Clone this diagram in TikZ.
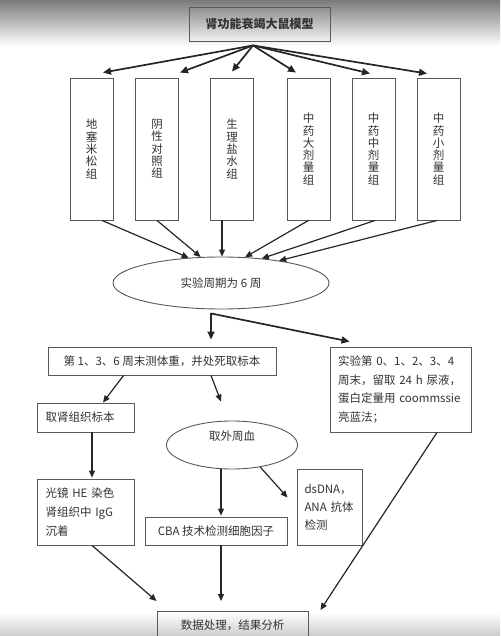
\documentclass[tikz,border=0pt]{standalone}
\usepackage{fontspec}
\setmainfont{Noto Sans CJK SC}
\usetikzlibrary{shapes.geometric,arrows.meta,calc}
\newcommand\tightls{\lineskiplimit=-20pt\relax\lineskip=0pt\relax}
\begin{document}
\begin{tikzpicture}[x=1pt,y=1pt,
  font=\fontsize{11.5}{13.5}\selectfont,
  txt/.style={text=black!80},
  boxa/.style={draw=black!65,line width=0.9pt,inner sep=0pt,txt},
  grp/.style={boxa,minimum width=43pt,minimum height=142pt,align=center,text width=12pt,font=\fontsize{11.5}{12.3}\selectfont\tightls},
  ell/.style={ellipse,draw=black!65,line width=0.9pt,inner sep=0pt,txt},
  arr/.style={-{Triangle[length=7pt,width=6pt]},line width=1.2pt,draw=black!85},
  arrb/.style={-{Triangle[length=8pt,width=7pt]},line width=1.7pt,draw=black!85}]
\clip (0,0) rectangle (500,-636);
\useasboundingbox (0,0) rectangle (500,-636);
\fill[white] (0,0) rectangle (500,-636);
\shade[top color=black!52,bottom color=white] (0,0) rectangle (500,-46);
\shade[top color=white,bottom color=black!20] (0,-612) rectangle (500,-636);

% title
\node[boxa,minimum width=141pt,minimum height=34pt,font=\fontsize{12}{14}\selectfont\bfseries] (title) at (259.5,-24) {肾功能衰竭大鼠模型};

% groups
\node[grp] (g1) at (91.5,-149) {地\\塞\\米\\松\\组};
\node[grp] (g2) at (157,-149) {阴\\性\\对\\照\\组};
\node[grp] (g3) at (232,-149) {生\\理\\盐\\水\\组};
\node[grp] (g4) at (308.5,-149) {中\\药\\大\\剂\\量\\组};
\node[grp] (g5) at (373.5,-149) {中\\药\\中\\剂\\量\\组};
\node[grp] (g6) at (438.5,-149) {中\\药\\小\\剂\\量\\组};

% period ellipse
\node[ell,minimum width=216pt,minimum height=52pt] (exp) at (221,-283) {实验周期为 6 周};

% second level
\node[boxa,minimum width=228pt,minimum height=28pt] (w1) at (162,-361) {第 1、3、6 周末测体重，并处死取标本};
\node[boxa,minimum width=141pt,minimum height=85pt,text width=125pt,align=left,font=\fontsize{11.5}{18.5}\selectfont\tightls] (rb) at (400.5,-389.5) {实验第 0、1、2、3、4\\周末，留取 24 h 尿液，\\蛋白定量用 coommssie\\亮蓝法；};

\node[boxa,minimum width=97pt,minimum height=29pt,text width=80pt,align=left] (kid) at (85.5,-417.5) {取肾组织标本};
\node[ell,minimum width=131pt,minimum height=48pt] (blood) at (232,-445) {};
\node[txt] (bloodt) at (232,-436) {取外周血};

\node[boxa,minimum width=97pt,minimum height=66pt,text width=80pt,align=left,font=\fontsize{11.5}{19}\selectfont\tightls] (he) at (85.5,-512) {光镜 HE 染色\\肾组织中 IgG\\沉着};
\node[boxa,minimum width=142pt,minimum height=28pt] (cba) at (216,-531) {CBA 技术检测细胞因子};
\node[boxa,minimum width=65pt,minimum height=76pt,text width=50pt,align=left,font=\fontsize{11.5}{18}\selectfont\tightls] (ds) at (329.5,-507) {dsDNA，\\ANA 抗体\\检测};

\node[boxa,minimum width=151pt,minimum height=40pt,anchor=north] (fin) at (232.5,-611) {};
\node[txt] (fint) at (232.5,-625) {数据处理，结果分析};

% arrows from title
\coordinate (t0) at ([shift={(-6.5pt,-4pt)}]title.south);
\draw[arrb] (t0) -- ([shift={(11.5pt,5pt)}]g1.north);
\draw[arrb] (t0) -- ([shift={(23pt,5pt)}]g2.north);
\draw[arrb] (t0) -- ([shift={(0pt,6pt)}]g3.north);
\draw[arrb] (t0) -- ([shift={(-12.5pt,5pt)}]g4.north);
\draw[arrb] (t0) -- ([shift={(-3.5pt,4pt)}]g5.north);
\draw[arrb] (t0) -- ([shift={(-11.5pt,4pt)}]g6.north);

% groups to ellipse
\draw[arr] ([xshift=10.5pt]g1.south) -- (exp.142);
\draw[arr] (g2.south) -- (exp.128);
\draw[arr] ([xshift=-10pt]g3.south) coordinate (s3) -- (s3 |- exp.north);
\draw[arr] (g4.south) -- (exp.47);
\draw[arr] ([xshift=1.5pt]g5.south) -- (exp.31);
\draw[arr] ([xshift=-1.5pt]g6.south) -- (exp.21);

% ellipse to second level
\coordinate (b0) at ([shift={(-10pt,-4pt)}]exp.south);
\draw[arrb] (b0) -- ([shift={(49pt,7pt)}]w1.north);
\draw[arrb] (b0) -- ([shift={(20pt,5pt)}]rb.north west);

% w1 branches
\draw[arr] ([xshift=76pt]w1.south west) -- ([shift={(17.5pt,0pt)}]kid.north);
\draw[arr] ([xshift=49pt]w1.south) -- ([shift={(-11pt,19pt)}]blood.north);

\draw[arr] ([xshift=6.5pt]kid.south) -- ([xshift=6.5pt,yshift=1pt]he.north);
\draw[arr] ([xshift=-11pt]blood.south) -- ([xshift=5pt,yshift=1pt]cba.north);
\draw[arr] (blood.-38) -- ([shift={(-9pt,-29pt)}]ds.north west);

% to final
\draw[arr] ([xshift=6.5pt]he.south) -- ([yshift=10pt]fin.north west);
\draw[arr] ([xshift=5pt]cba.south) -- ([shift={(-11.5pt,10pt)}]fin.north);
\draw[arr] ([xshift=36.5pt]rb.south) -- ([shift={(12pt,1pt)}]fin.north east);
\end{tikzpicture}
\end{document}
